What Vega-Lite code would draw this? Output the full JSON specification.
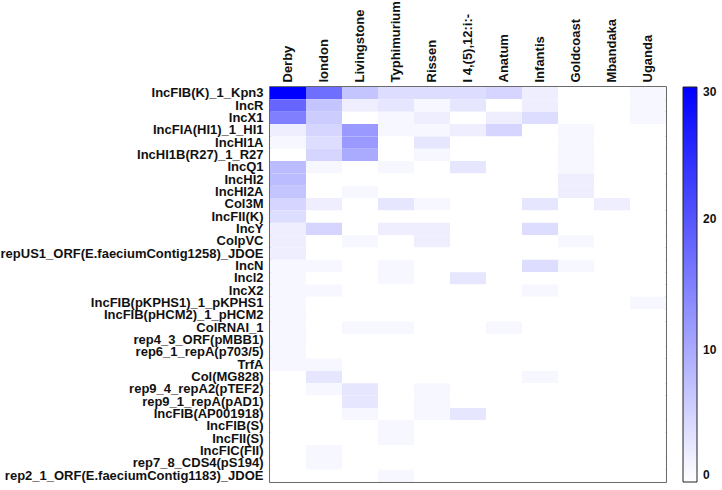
{
  "$schema": "https://vega.github.io/schema/vega-lite/v6.json",
  "autosize": {"type": "none"},
  "padding": {"left": 270, "top": 87, "right": 56, "bottom": 8},
  "width": 396,
  "height": 395,
  "background": "white",
  "config": {
    "font": "Liberation Sans",
    "view": {"stroke": "#3a3a3a", "strokeWidth": 1.5},
    "axis": {"labelFont": "Liberation Sans", "labelFontWeight": "bold", "labelFontSize": 13, "labelColor": "#111111", "ticks": false, "domain": false, "grid": false, "title": null},
    "legend": {"labelFont": "Liberation Sans", "labelFontWeight": "bold", "labelFontSize": 12, "labelColor": "#111111"}
  },
  "data": {"values": [
    {"p":"IncFIB(K)_1_Kpn3","s":"Derby","n":30},{"p":"IncFIB(K)_1_Kpn3","s":"london","n":17},{"p":"IncFIB(K)_1_Kpn3","s":"Livingstone","n":7},{"p":"IncFIB(K)_1_Kpn3","s":"Typhimurium","n":4},{"p":"IncFIB(K)_1_Kpn3","s":"Rissen","n":4},{"p":"IncFIB(K)_1_Kpn3","s":"I 4,(5),12:i:-","n":4},{"p":"IncFIB(K)_1_Kpn3","s":"Anatum","n":5},{"p":"IncFIB(K)_1_Kpn3","s":"Infantis","n":2},{"p":"IncFIB(K)_1_Kpn3","s":"Goldcoast","n":0},{"p":"IncFIB(K)_1_Kpn3","s":"Mbandaka","n":0},{"p":"IncFIB(K)_1_Kpn3","s":"Uganda","n":1},
    {"p":"IncR","s":"Derby","n":18},{"p":"IncR","s":"london","n":7},{"p":"IncR","s":"Livingstone","n":2},{"p":"IncR","s":"Typhimurium","n":3},{"p":"IncR","s":"Rissen","n":1},{"p":"IncR","s":"I 4,(5),12:i:-","n":3},{"p":"IncR","s":"Anatum","n":0},{"p":"IncR","s":"Infantis","n":2},{"p":"IncR","s":"Goldcoast","n":0},{"p":"IncR","s":"Mbandaka","n":0},{"p":"IncR","s":"Uganda","n":1},
    {"p":"IncX1","s":"Derby","n":15},{"p":"IncX1","s":"london","n":6},{"p":"IncX1","s":"Livingstone","n":0},{"p":"IncX1","s":"Typhimurium","n":1},{"p":"IncX1","s":"Rissen","n":2},{"p":"IncX1","s":"I 4,(5),12:i:-","n":0},{"p":"IncX1","s":"Anatum","n":2},{"p":"IncX1","s":"Infantis","n":4},{"p":"IncX1","s":"Goldcoast","n":0},{"p":"IncX1","s":"Mbandaka","n":0},{"p":"IncX1","s":"Uganda","n":1},
    {"p":"IncFIA(HI1)_1_HI1","s":"Derby","n":2},{"p":"IncFIA(HI1)_1_HI1","s":"london","n":5},{"p":"IncFIA(HI1)_1_HI1","s":"Livingstone","n":12},{"p":"IncFIA(HI1)_1_HI1","s":"Typhimurium","n":1},{"p":"IncFIA(HI1)_1_HI1","s":"Rissen","n":1},{"p":"IncFIA(HI1)_1_HI1","s":"I 4,(5),12:i:-","n":2},{"p":"IncFIA(HI1)_1_HI1","s":"Anatum","n":5},{"p":"IncFIA(HI1)_1_HI1","s":"Infantis","n":0},{"p":"IncFIA(HI1)_1_HI1","s":"Goldcoast","n":1},{"p":"IncFIA(HI1)_1_HI1","s":"Mbandaka","n":0},{"p":"IncFIA(HI1)_1_HI1","s":"Uganda","n":0},
    {"p":"IncHI1A","s":"Derby","n":1},{"p":"IncHI1A","s":"london","n":4},{"p":"IncHI1A","s":"Livingstone","n":12},{"p":"IncHI1A","s":"Typhimurium","n":0},{"p":"IncHI1A","s":"Rissen","n":3},{"p":"IncHI1A","s":"I 4,(5),12:i:-","n":0},{"p":"IncHI1A","s":"Anatum","n":0},{"p":"IncHI1A","s":"Infantis","n":0},{"p":"IncHI1A","s":"Goldcoast","n":1},{"p":"IncHI1A","s":"Mbandaka","n":0},{"p":"IncHI1A","s":"Uganda","n":0},
    {"p":"IncHI1B(R27)_1_R27","s":"Derby","n":0},{"p":"IncHI1B(R27)_1_R27","s":"london","n":5},{"p":"IncHI1B(R27)_1_R27","s":"Livingstone","n":10},{"p":"IncHI1B(R27)_1_R27","s":"Typhimurium","n":0},{"p":"IncHI1B(R27)_1_R27","s":"Rissen","n":1},{"p":"IncHI1B(R27)_1_R27","s":"I 4,(5),12:i:-","n":0},{"p":"IncHI1B(R27)_1_R27","s":"Anatum","n":0},{"p":"IncHI1B(R27)_1_R27","s":"Infantis","n":0},{"p":"IncHI1B(R27)_1_R27","s":"Goldcoast","n":1},{"p":"IncHI1B(R27)_1_R27","s":"Mbandaka","n":0},{"p":"IncHI1B(R27)_1_R27","s":"Uganda","n":0},
    {"p":"IncQ1","s":"Derby","n":8},{"p":"IncQ1","s":"london","n":1},{"p":"IncQ1","s":"Livingstone","n":0},{"p":"IncQ1","s":"Typhimurium","n":1},{"p":"IncQ1","s":"Rissen","n":0},{"p":"IncQ1","s":"I 4,(5),12:i:-","n":3},{"p":"IncQ1","s":"Anatum","n":0},{"p":"IncQ1","s":"Infantis","n":0},{"p":"IncQ1","s":"Goldcoast","n":1},{"p":"IncQ1","s":"Mbandaka","n":0},{"p":"IncQ1","s":"Uganda","n":0},
    {"p":"IncHI2","s":"Derby","n":8},{"p":"IncHI2","s":"london","n":0},{"p":"IncHI2","s":"Livingstone","n":0},{"p":"IncHI2","s":"Typhimurium","n":0},{"p":"IncHI2","s":"Rissen","n":0},{"p":"IncHI2","s":"I 4,(5),12:i:-","n":0},{"p":"IncHI2","s":"Anatum","n":0},{"p":"IncHI2","s":"Infantis","n":0},{"p":"IncHI2","s":"Goldcoast","n":2},{"p":"IncHI2","s":"Mbandaka","n":0},{"p":"IncHI2","s":"Uganda","n":0},
    {"p":"IncHI2A","s":"Derby","n":7},{"p":"IncHI2A","s":"london","n":0},{"p":"IncHI2A","s":"Livingstone","n":1},{"p":"IncHI2A","s":"Typhimurium","n":0},{"p":"IncHI2A","s":"Rissen","n":0},{"p":"IncHI2A","s":"I 4,(5),12:i:-","n":0},{"p":"IncHI2A","s":"Anatum","n":0},{"p":"IncHI2A","s":"Infantis","n":0},{"p":"IncHI2A","s":"Goldcoast","n":2},{"p":"IncHI2A","s":"Mbandaka","n":0},{"p":"IncHI2A","s":"Uganda","n":0},
    {"p":"Col3M","s":"Derby","n":5},{"p":"Col3M","s":"london","n":2},{"p":"Col3M","s":"Livingstone","n":0},{"p":"Col3M","s":"Typhimurium","n":3},{"p":"Col3M","s":"Rissen","n":1},{"p":"Col3M","s":"I 4,(5),12:i:-","n":0},{"p":"Col3M","s":"Anatum","n":0},{"p":"Col3M","s":"Infantis","n":3},{"p":"Col3M","s":"Goldcoast","n":0},{"p":"Col3M","s":"Mbandaka","n":2},{"p":"Col3M","s":"Uganda","n":0},
    {"p":"IncFII(K)","s":"Derby","n":4},{"p":"IncFII(K)","s":"london","n":0},{"p":"IncFII(K)","s":"Livingstone","n":0},{"p":"IncFII(K)","s":"Typhimurium","n":0},{"p":"IncFII(K)","s":"Rissen","n":0},{"p":"IncFII(K)","s":"I 4,(5),12:i:-","n":0},{"p":"IncFII(K)","s":"Anatum","n":0},{"p":"IncFII(K)","s":"Infantis","n":0},{"p":"IncFII(K)","s":"Goldcoast","n":0},{"p":"IncFII(K)","s":"Mbandaka","n":0},{"p":"IncFII(K)","s":"Uganda","n":0},
    {"p":"IncY","s":"Derby","n":2},{"p":"IncY","s":"london","n":5},{"p":"IncY","s":"Livingstone","n":0},{"p":"IncY","s":"Typhimurium","n":2},{"p":"IncY","s":"Rissen","n":2},{"p":"IncY","s":"I 4,(5),12:i:-","n":0},{"p":"IncY","s":"Anatum","n":0},{"p":"IncY","s":"Infantis","n":4},{"p":"IncY","s":"Goldcoast","n":0},{"p":"IncY","s":"Mbandaka","n":0},{"p":"IncY","s":"Uganda","n":0},
    {"p":"ColpVC","s":"Derby","n":2},{"p":"ColpVC","s":"london","n":0},{"p":"ColpVC","s":"Livingstone","n":1},{"p":"ColpVC","s":"Typhimurium","n":0},{"p":"ColpVC","s":"Rissen","n":2},{"p":"ColpVC","s":"I 4,(5),12:i:-","n":0},{"p":"ColpVC","s":"Anatum","n":0},{"p":"ColpVC","s":"Infantis","n":0},{"p":"ColpVC","s":"Goldcoast","n":1},{"p":"ColpVC","s":"Mbandaka","n":0},{"p":"ColpVC","s":"Uganda","n":0},
    {"p":"repUS1_ORF(E.faeciumContig1258)_JDOE","s":"Derby","n":2},{"p":"repUS1_ORF(E.faeciumContig1258)_JDOE","s":"london","n":0},{"p":"repUS1_ORF(E.faeciumContig1258)_JDOE","s":"Livingstone","n":0},{"p":"repUS1_ORF(E.faeciumContig1258)_JDOE","s":"Typhimurium","n":0},{"p":"repUS1_ORF(E.faeciumContig1258)_JDOE","s":"Rissen","n":0},{"p":"repUS1_ORF(E.faeciumContig1258)_JDOE","s":"I 4,(5),12:i:-","n":0},{"p":"repUS1_ORF(E.faeciumContig1258)_JDOE","s":"Anatum","n":0},{"p":"repUS1_ORF(E.faeciumContig1258)_JDOE","s":"Infantis","n":0},{"p":"repUS1_ORF(E.faeciumContig1258)_JDOE","s":"Goldcoast","n":0},{"p":"repUS1_ORF(E.faeciumContig1258)_JDOE","s":"Mbandaka","n":0},{"p":"repUS1_ORF(E.faeciumContig1258)_JDOE","s":"Uganda","n":0},
    {"p":"IncN","s":"Derby","n":1},{"p":"IncN","s":"london","n":1},{"p":"IncN","s":"Livingstone","n":0},{"p":"IncN","s":"Typhimurium","n":1},{"p":"IncN","s":"Rissen","n":0},{"p":"IncN","s":"I 4,(5),12:i:-","n":0},{"p":"IncN","s":"Anatum","n":0},{"p":"IncN","s":"Infantis","n":4},{"p":"IncN","s":"Goldcoast","n":1},{"p":"IncN","s":"Mbandaka","n":0},{"p":"IncN","s":"Uganda","n":0},
    {"p":"Incl2","s":"Derby","n":1},{"p":"Incl2","s":"london","n":0},{"p":"Incl2","s":"Livingstone","n":0},{"p":"Incl2","s":"Typhimurium","n":1},{"p":"Incl2","s":"Rissen","n":0},{"p":"Incl2","s":"I 4,(5),12:i:-","n":3},{"p":"Incl2","s":"Anatum","n":0},{"p":"Incl2","s":"Infantis","n":0},{"p":"Incl2","s":"Goldcoast","n":0},{"p":"Incl2","s":"Mbandaka","n":0},{"p":"Incl2","s":"Uganda","n":0},
    {"p":"IncX2","s":"Derby","n":1},{"p":"IncX2","s":"london","n":1},{"p":"IncX2","s":"Livingstone","n":0},{"p":"IncX2","s":"Typhimurium","n":0},{"p":"IncX2","s":"Rissen","n":0},{"p":"IncX2","s":"I 4,(5),12:i:-","n":0},{"p":"IncX2","s":"Anatum","n":0},{"p":"IncX2","s":"Infantis","n":1},{"p":"IncX2","s":"Goldcoast","n":0},{"p":"IncX2","s":"Mbandaka","n":0},{"p":"IncX2","s":"Uganda","n":0},
    {"p":"IncFIB(pKPHS1)_1_pKPHS1","s":"Derby","n":1},{"p":"IncFIB(pKPHS1)_1_pKPHS1","s":"london","n":0},{"p":"IncFIB(pKPHS1)_1_pKPHS1","s":"Livingstone","n":0},{"p":"IncFIB(pKPHS1)_1_pKPHS1","s":"Typhimurium","n":0},{"p":"IncFIB(pKPHS1)_1_pKPHS1","s":"Rissen","n":0},{"p":"IncFIB(pKPHS1)_1_pKPHS1","s":"I 4,(5),12:i:-","n":0},{"p":"IncFIB(pKPHS1)_1_pKPHS1","s":"Anatum","n":0},{"p":"IncFIB(pKPHS1)_1_pKPHS1","s":"Infantis","n":0},{"p":"IncFIB(pKPHS1)_1_pKPHS1","s":"Goldcoast","n":0},{"p":"IncFIB(pKPHS1)_1_pKPHS1","s":"Mbandaka","n":0},{"p":"IncFIB(pKPHS1)_1_pKPHS1","s":"Uganda","n":1},
    {"p":"IncFIB(pHCM2)_1_pHCM2","s":"Derby","n":1},{"p":"IncFIB(pHCM2)_1_pHCM2","s":"london","n":0},{"p":"IncFIB(pHCM2)_1_pHCM2","s":"Livingstone","n":0},{"p":"IncFIB(pHCM2)_1_pHCM2","s":"Typhimurium","n":0},{"p":"IncFIB(pHCM2)_1_pHCM2","s":"Rissen","n":0},{"p":"IncFIB(pHCM2)_1_pHCM2","s":"I 4,(5),12:i:-","n":0},{"p":"IncFIB(pHCM2)_1_pHCM2","s":"Anatum","n":0},{"p":"IncFIB(pHCM2)_1_pHCM2","s":"Infantis","n":0},{"p":"IncFIB(pHCM2)_1_pHCM2","s":"Goldcoast","n":0},{"p":"IncFIB(pHCM2)_1_pHCM2","s":"Mbandaka","n":0},{"p":"IncFIB(pHCM2)_1_pHCM2","s":"Uganda","n":0},
    {"p":"ColRNAI_1","s":"Derby","n":1},{"p":"ColRNAI_1","s":"london","n":0},{"p":"ColRNAI_1","s":"Livingstone","n":1},{"p":"ColRNAI_1","s":"Typhimurium","n":1},{"p":"ColRNAI_1","s":"Rissen","n":0},{"p":"ColRNAI_1","s":"I 4,(5),12:i:-","n":0},{"p":"ColRNAI_1","s":"Anatum","n":1},{"p":"ColRNAI_1","s":"Infantis","n":0},{"p":"ColRNAI_1","s":"Goldcoast","n":0},{"p":"ColRNAI_1","s":"Mbandaka","n":0},{"p":"ColRNAI_1","s":"Uganda","n":0},
    {"p":"rep4_3_ORF(pMBB1)","s":"Derby","n":1},{"p":"rep4_3_ORF(pMBB1)","s":"london","n":0},{"p":"rep4_3_ORF(pMBB1)","s":"Livingstone","n":0},{"p":"rep4_3_ORF(pMBB1)","s":"Typhimurium","n":0},{"p":"rep4_3_ORF(pMBB1)","s":"Rissen","n":0},{"p":"rep4_3_ORF(pMBB1)","s":"I 4,(5),12:i:-","n":0},{"p":"rep4_3_ORF(pMBB1)","s":"Anatum","n":0},{"p":"rep4_3_ORF(pMBB1)","s":"Infantis","n":0},{"p":"rep4_3_ORF(pMBB1)","s":"Goldcoast","n":0},{"p":"rep4_3_ORF(pMBB1)","s":"Mbandaka","n":0},{"p":"rep4_3_ORF(pMBB1)","s":"Uganda","n":0},
    {"p":"rep6_1_repA(p703/5)","s":"Derby","n":1},{"p":"rep6_1_repA(p703/5)","s":"london","n":0},{"p":"rep6_1_repA(p703/5)","s":"Livingstone","n":0},{"p":"rep6_1_repA(p703/5)","s":"Typhimurium","n":0},{"p":"rep6_1_repA(p703/5)","s":"Rissen","n":0},{"p":"rep6_1_repA(p703/5)","s":"I 4,(5),12:i:-","n":0},{"p":"rep6_1_repA(p703/5)","s":"Anatum","n":0},{"p":"rep6_1_repA(p703/5)","s":"Infantis","n":0},{"p":"rep6_1_repA(p703/5)","s":"Goldcoast","n":0},{"p":"rep6_1_repA(p703/5)","s":"Mbandaka","n":0},{"p":"rep6_1_repA(p703/5)","s":"Uganda","n":0},
    {"p":"TrfA","s":"Derby","n":1},{"p":"TrfA","s":"london","n":1},{"p":"TrfA","s":"Livingstone","n":0},{"p":"TrfA","s":"Typhimurium","n":0},{"p":"TrfA","s":"Rissen","n":0},{"p":"TrfA","s":"I 4,(5),12:i:-","n":0},{"p":"TrfA","s":"Anatum","n":0},{"p":"TrfA","s":"Infantis","n":0},{"p":"TrfA","s":"Goldcoast","n":0},{"p":"TrfA","s":"Mbandaka","n":0},{"p":"TrfA","s":"Uganda","n":0},
    {"p":"Col(MG828)","s":"Derby","n":0},{"p":"Col(MG828)","s":"london","n":3},{"p":"Col(MG828)","s":"Livingstone","n":0},{"p":"Col(MG828)","s":"Typhimurium","n":0},{"p":"Col(MG828)","s":"Rissen","n":0},{"p":"Col(MG828)","s":"I 4,(5),12:i:-","n":0},{"p":"Col(MG828)","s":"Anatum","n":0},{"p":"Col(MG828)","s":"Infantis","n":1},{"p":"Col(MG828)","s":"Goldcoast","n":0},{"p":"Col(MG828)","s":"Mbandaka","n":0},{"p":"Col(MG828)","s":"Uganda","n":0},
    {"p":"rep9_4_repA2(pTEF2)","s":"Derby","n":0},{"p":"rep9_4_repA2(pTEF2)","s":"london","n":1},{"p":"rep9_4_repA2(pTEF2)","s":"Livingstone","n":3},{"p":"rep9_4_repA2(pTEF2)","s":"Typhimurium","n":0},{"p":"rep9_4_repA2(pTEF2)","s":"Rissen","n":1},{"p":"rep9_4_repA2(pTEF2)","s":"I 4,(5),12:i:-","n":0},{"p":"rep9_4_repA2(pTEF2)","s":"Anatum","n":0},{"p":"rep9_4_repA2(pTEF2)","s":"Infantis","n":0},{"p":"rep9_4_repA2(pTEF2)","s":"Goldcoast","n":0},{"p":"rep9_4_repA2(pTEF2)","s":"Mbandaka","n":0},{"p":"rep9_4_repA2(pTEF2)","s":"Uganda","n":0},
    {"p":"rep9_1_repA(pAD1)","s":"Derby","n":0},{"p":"rep9_1_repA(pAD1)","s":"london","n":0},{"p":"rep9_1_repA(pAD1)","s":"Livingstone","n":3},{"p":"rep9_1_repA(pAD1)","s":"Typhimurium","n":0},{"p":"rep9_1_repA(pAD1)","s":"Rissen","n":1},{"p":"rep9_1_repA(pAD1)","s":"I 4,(5),12:i:-","n":0},{"p":"rep9_1_repA(pAD1)","s":"Anatum","n":0},{"p":"rep9_1_repA(pAD1)","s":"Infantis","n":0},{"p":"rep9_1_repA(pAD1)","s":"Goldcoast","n":0},{"p":"rep9_1_repA(pAD1)","s":"Mbandaka","n":0},{"p":"rep9_1_repA(pAD1)","s":"Uganda","n":0},
    {"p":"IncFIB(AP001918)","s":"Derby","n":0},{"p":"IncFIB(AP001918)","s":"london","n":0},{"p":"IncFIB(AP001918)","s":"Livingstone","n":1},{"p":"IncFIB(AP001918)","s":"Typhimurium","n":0},{"p":"IncFIB(AP001918)","s":"Rissen","n":1},{"p":"IncFIB(AP001918)","s":"I 4,(5),12:i:-","n":3},{"p":"IncFIB(AP001918)","s":"Anatum","n":0},{"p":"IncFIB(AP001918)","s":"Infantis","n":0},{"p":"IncFIB(AP001918)","s":"Goldcoast","n":0},{"p":"IncFIB(AP001918)","s":"Mbandaka","n":0},{"p":"IncFIB(AP001918)","s":"Uganda","n":0},
    {"p":"IncFIB(S)","s":"Derby","n":0},{"p":"IncFIB(S)","s":"london","n":0},{"p":"IncFIB(S)","s":"Livingstone","n":0},{"p":"IncFIB(S)","s":"Typhimurium","n":1},{"p":"IncFIB(S)","s":"Rissen","n":0},{"p":"IncFIB(S)","s":"I 4,(5),12:i:-","n":0},{"p":"IncFIB(S)","s":"Anatum","n":0},{"p":"IncFIB(S)","s":"Infantis","n":0},{"p":"IncFIB(S)","s":"Goldcoast","n":0},{"p":"IncFIB(S)","s":"Mbandaka","n":0},{"p":"IncFIB(S)","s":"Uganda","n":0},
    {"p":"IncFII(S)","s":"Derby","n":0},{"p":"IncFII(S)","s":"london","n":0},{"p":"IncFII(S)","s":"Livingstone","n":0},{"p":"IncFII(S)","s":"Typhimurium","n":1},{"p":"IncFII(S)","s":"Rissen","n":0},{"p":"IncFII(S)","s":"I 4,(5),12:i:-","n":0},{"p":"IncFII(S)","s":"Anatum","n":0},{"p":"IncFII(S)","s":"Infantis","n":0},{"p":"IncFII(S)","s":"Goldcoast","n":0},{"p":"IncFII(S)","s":"Mbandaka","n":0},{"p":"IncFII(S)","s":"Uganda","n":0},
    {"p":"IncFIC(FII)","s":"Derby","n":0},{"p":"IncFIC(FII)","s":"london","n":1},{"p":"IncFIC(FII)","s":"Livingstone","n":0},{"p":"IncFIC(FII)","s":"Typhimurium","n":0},{"p":"IncFIC(FII)","s":"Rissen","n":0},{"p":"IncFIC(FII)","s":"I 4,(5),12:i:-","n":0},{"p":"IncFIC(FII)","s":"Anatum","n":0},{"p":"IncFIC(FII)","s":"Infantis","n":0},{"p":"IncFIC(FII)","s":"Goldcoast","n":0},{"p":"IncFIC(FII)","s":"Mbandaka","n":0},{"p":"IncFIC(FII)","s":"Uganda","n":0},
    {"p":"rep7_8_CDS4(pS194)","s":"Derby","n":0},{"p":"rep7_8_CDS4(pS194)","s":"london","n":1},{"p":"rep7_8_CDS4(pS194)","s":"Livingstone","n":0},{"p":"rep7_8_CDS4(pS194)","s":"Typhimurium","n":0},{"p":"rep7_8_CDS4(pS194)","s":"Rissen","n":0},{"p":"rep7_8_CDS4(pS194)","s":"I 4,(5),12:i:-","n":0},{"p":"rep7_8_CDS4(pS194)","s":"Anatum","n":0},{"p":"rep7_8_CDS4(pS194)","s":"Infantis","n":0},{"p":"rep7_8_CDS4(pS194)","s":"Goldcoast","n":0},{"p":"rep7_8_CDS4(pS194)","s":"Mbandaka","n":0},{"p":"rep7_8_CDS4(pS194)","s":"Uganda","n":0},
    {"p":"rep2_1_ORF(E.faeciumContig1183)_JDOE","s":"Derby","n":0},{"p":"rep2_1_ORF(E.faeciumContig1183)_JDOE","s":"london","n":0},{"p":"rep2_1_ORF(E.faeciumContig1183)_JDOE","s":"Livingstone","n":0},{"p":"rep2_1_ORF(E.faeciumContig1183)_JDOE","s":"Typhimurium","n":1},{"p":"rep2_1_ORF(E.faeciumContig1183)_JDOE","s":"Rissen","n":0},{"p":"rep2_1_ORF(E.faeciumContig1183)_JDOE","s":"I 4,(5),12:i:-","n":0},{"p":"rep2_1_ORF(E.faeciumContig1183)_JDOE","s":"Anatum","n":0},{"p":"rep2_1_ORF(E.faeciumContig1183)_JDOE","s":"Infantis","n":0},{"p":"rep2_1_ORF(E.faeciumContig1183)_JDOE","s":"Goldcoast","n":0},{"p":"rep2_1_ORF(E.faeciumContig1183)_JDOE","s":"Mbandaka","n":0},{"p":"rep2_1_ORF(E.faeciumContig1183)_JDOE","s":"Uganda","n":0}
  ]},
  "mark": {"type": "rect", "strokeWidth": 0},
  "encoding": {
    "x": {"field": "s", "type": "nominal", "sort": null, "scale": {"paddingInner": 0, "paddingOuter": 0},
      "axis": {"orient": "top", "labelAngle": -90, "labelPadding": 5}},
    "y": {"field": "p", "type": "nominal", "sort": null, "scale": {"paddingInner": 0, "paddingOuter": 0},
      "axis": {"labelPadding": 7, "labelLimit": 300}},
    "color": {"field": "n", "type": "quantitative",
      "scale": {"domain": [0, 30], "range": ["#ffffff", "#0000ff"], "interpolate": "rgb"},
      "legend": {"title": null, "orient": "right", "offset": 17, "gradientLength": 395, "gradientThickness": 14,
        "gradientStrokeColor": "#222222", "gradientStrokeWidth": 1, "values": [0, 10, 20, 30],
        "labelOffset": 6, "labelBaseline": "middle", "labelOverlap": false}}
  }
}
